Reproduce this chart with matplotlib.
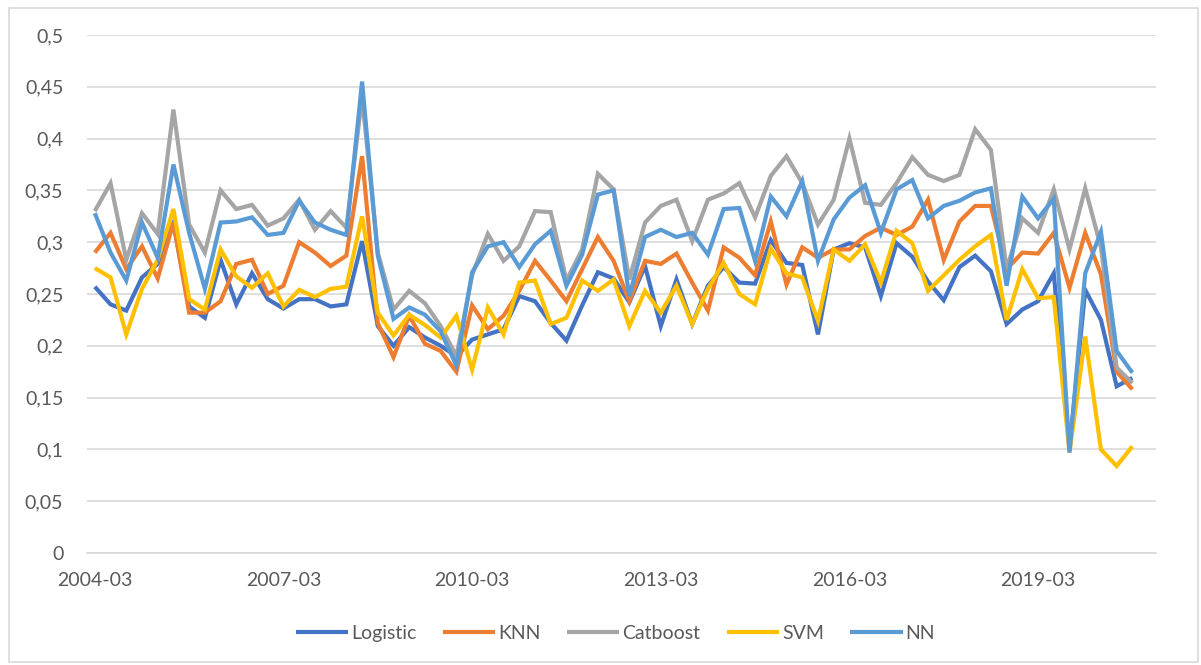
import matplotlib
matplotlib.use("Agg")
import matplotlib.pyplot as plt
from matplotlib.patches import Rectangle

plt.rcParams['font.family'] = ['Lato', 'DejaVu Sans']

# quarterly periods on the category axis (last slot has no data)
quarters = [f"{y}-{m:02d}" for y in range(2004, 2021) for m in (3, 6, 9, 12)]

logistic = [0.257, 0.240, 0.234, 0.266, 0.279, 0.318, 0.238, 0.227, 0.283, 0.240, 0.270, 0.245,
            0.236, 0.245, 0.245, 0.238, 0.240, 0.301, 0.219, 0.200, 0.218, 0.208,
            0.200, 0.190, 0.206, 0.211, 0.216, 0.248, 0.243, 0.222, 0.205, 0.239, 0.271,
            0.265, 0.242, 0.277, 0.219, 0.264, 0.221, 0.258, 0.276, 0.261, 0.260, 0.302,
            0.280, 0.278, 0.211, 0.293, 0.299, 0.295, 0.248, 0.299, 0.286, 0.262, 0.244,
            0.276, 0.287, 0.272, 0.221, 0.235, 0.243, 0.270, 0.100, 0.254, 0.225, 0.161, 0.169]

knn = [0.290, 0.309, 0.274, 0.296, 0.265, 0.319, 0.232, 0.232, 0.243, 0.279, 0.283, 0.250,
       0.258, 0.300, 0.290, 0.277, 0.287, 0.383, 0.222, 0.189, 0.229, 0.202,
       0.195, 0.175, 0.239, 0.216, 0.229, 0.253, 0.282, 0.263, 0.243, 0.274, 0.305,
       0.282, 0.243, 0.282, 0.279, 0.289, 0.261, 0.234, 0.295, 0.285, 0.268, 0.320,
       0.259, 0.295, 0.285, 0.293, 0.293, 0.306, 0.314, 0.307, 0.315, 0.341, 0.283,
       0.320, 0.335, 0.335, 0.274, 0.290, 0.289, 0.309, 0.256, 0.309, 0.269, 0.175, 0.158]

catboost = [0.330, 0.357, 0.283, 0.328, 0.308, 0.428, 0.317, 0.290, 0.350, 0.332, 0.336, 0.316,
            0.323, 0.341, 0.312, 0.330, 0.314, 0.440, 0.290, 0.235, 0.253, 0.241,
            0.219, 0.190, 0.268, 0.308, 0.282, 0.296, 0.330, 0.329, 0.263, 0.293, 0.366,
            0.351, 0.264, 0.319, 0.335, 0.341, 0.301, 0.341, 0.347, 0.357, 0.324, 0.364,
            0.383, 0.357, 0.317, 0.341, 0.400, 0.338, 0.336, 0.357, 0.382, 0.365, 0.359,
            0.365, 0.409, 0.389, 0.274, 0.323, 0.309, 0.351, 0.293, 0.352, 0.295, 0.179, 0.164]

svm = [0.275, 0.266, 0.211, 0.255, 0.283, 0.332, 0.245, 0.235, 0.293, 0.267, 0.256, 0.270,
       0.238, 0.254, 0.247, 0.255, 0.257, 0.325, 0.232, 0.210, 0.230, 0.220,
       0.208, 0.229, 0.177, 0.237, 0.211, 0.261, 0.263, 0.221, 0.227, 0.263, 0.253,
       0.264, 0.219, 0.253, 0.232, 0.258, 0.221, 0.255, 0.280, 0.250, 0.240, 0.294,
       0.270, 0.266, 0.224, 0.293, 0.282, 0.298, 0.261, 0.311, 0.299, 0.253, 0.268,
       0.283, 0.296, 0.307, 0.225, 0.274, 0.246, 0.247, 0.097, 0.209, 0.100, 0.084, 0.103]

nn = [0.328, 0.290, 0.263, 0.319, 0.285, 0.375, 0.309, 0.255, 0.319, 0.320, 0.324, 0.307,
      0.309, 0.340, 0.319, 0.312, 0.307, 0.455, 0.287, 0.226, 0.237, 0.230,
      0.214, 0.181, 0.271, 0.296, 0.300, 0.276, 0.298, 0.311, 0.258, 0.288, 0.346,
      0.350, 0.248, 0.305, 0.312, 0.305, 0.309, 0.288, 0.332, 0.333, 0.282, 0.344,
      0.325, 0.359, 0.282, 0.322, 0.343, 0.355, 0.309, 0.351, 0.360, 0.323, 0.335,
      0.340, 0.348, 0.352, 0.258, 0.344, 0.323, 0.342, 0.097, 0.270, 0.310, 0.195, 0.174]

series = [("Logistic", logistic, "#4472C4"),
          ("KNN", knn, "#ED7D31"),
          ("Catboost", catboost, "#A5A5A5"),
          ("SVM", svm, "#FFC000"),
          ("NN", nn, "#5B9BD5")]

fig = plt.figure(figsize=(12.01, 6.65), dpi=100)
ax = fig.add_axes([0.0724, 0.1684, 0.8901, 0.779])

for name, vals, col in series:
    ax.plot(range(len(vals)), vals, color=col, lw=3, label=name,
            solid_joinstyle="miter", solid_capstyle="butt")

ax.set_xlim(-0.5, len(quarters) - 0.5)
ax.set_ylim(0, 0.5)
yt = [i * 0.05 for i in range(11)]
ax.set_yticks(yt)
ax.set_yticklabels([f"{v:g}".replace(".", ",") for v in [round(t, 2) for t in yt]])
xt = list(range(0, len(quarters), 12))
ax.set_xticks(xt)
ax.set_xticklabels([quarters[i] for i in xt])

ax.grid(axis="y", color="#D9D9D9", lw=1.2)
ax.set_axisbelow(True)
for s in ["top", "right", "left"]:
    ax.spines[s].set_visible(False)
ax.spines["bottom"].set_color("#D9D9D9")
ax.spines["bottom"].set_linewidth(1.2)
ax.tick_params(axis="both", length=0, labelsize=14, colors="#595959")
ax.tick_params(axis="y", pad=17)
ax.tick_params(axis="x", pad=14)

fig.legend(loc="center", bbox_to_anchor=(0.5125, 0.048), ncol=5, frameon=False,
           fontsize=14, handlelength=2.7, handletextpad=0.15, columnspacing=1.35,
           labelcolor="#595959")

fig.patches.append(Rectangle((0.0075, 0.005), 0.99, 0.983, transform=fig.transFigure,
                             fill=False, edgecolor="#D9D9D9", lw=1.2))

fig.savefig("out.png", dpi=100)
